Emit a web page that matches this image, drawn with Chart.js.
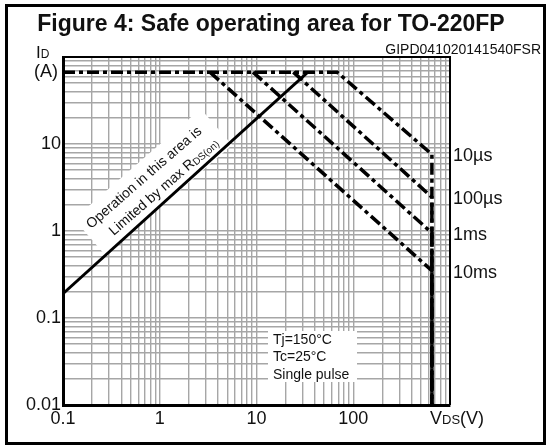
<!DOCTYPE html>
<html>
<head>
<meta charset="utf-8">
<script src="https://cdn.jsdelivr.net/npm/chart.js@4/dist/chart.umd.min.js"></script>
<style>
    html, body { margin: 0; padding: 0; background: #fff; }
    #wrap { width: 548px; height: 446px; }
</style>
</head>
<body>
<div id="wrap"><canvas id="soaChart" width="548" height="446"></canvas></div>
<script>
// axis decades and their labels
const xDecades = [0.1, 1, 10, 100, 1000];
const xLabels = ['0.1', '1', '10', '100', ''];
const yDecades = [0.01, 0.1, 1, 10, 100];
const yLabels = ['0.01', '0.1', '1', '10', ''];

// limit lines (VDS in V, ID in A)
const rdsVds = [0.1, 34];
const rdsId = [0.19, 67];
const t10usVds = [0.1, 68, 650, 650];
const t10usId = [67, 67, 7.6, 0.01];
const t100usVds = [24, 650, 650];
const t100usId = [67, 2.45, 0.01];
const t1msVds = [9.2, 650, 650];
const t1msId = [67, 0.95, 0.01];
const t10msVds = [3.3, 650, 650];
const t10msId = [67, 0.35, 0.01];

const pulseNames = ['10µs', '100µs', '1ms', '10ms'];
const noteLines = ['Tj=150°C', 'Tc=25°C', 'Single pulse'];

const FONT = "'Liberation Sans', Arial, sans-serif";

function logGrid(decades) {
    const out = [];
    for (let i = 0; i < decades.length - 1; i++) {
        for (let k = 1; k < 10; k++) out.push(decades[i] * k);
    }
    out.push(decades[decades.length - 1]);
    return out;
}

function pts(xs, ys) {
    return xs.map((x, i) => ({ x, y: ys[i] }));
}

// draws pieces of text one after another, for subscripts
function drawParts(ctx, parts, x, y) {
    let cx = x;
    parts.forEach(([text, size, dy]) => {
        ctx.font = `${size}px ${FONT}`;
        ctx.fillText(text, cx, y + (dy || 0));
        cx += ctx.measureText(text).width;
    });
    return cx - x;
}

const pulseDash = [12, 4, 4, 4];

function pulseSet(label, xs, ys) {
    return {
        label,
        data: pts(xs, ys),
        showLine: true,
        borderColor: '#000',
        borderWidth: 3.5,
        borderDash: pulseDash,
        pointRadius: 0,
        fill: false
    };
}

const figureDecor = {
    id: 'figureDecor',
    beforeDraw(chart) {
        const ctx = chart.ctx;
        ctx.save();
        ctx.fillStyle = '#fff';
        ctx.fillRect(0, 0, chart.width, chart.height);
        ctx.restore();
    },
    beforeDatasetsDraw(chart) {
        const ctx = chart.ctx;
        ctx.save();
        ctx.fillStyle = '#111';

        // rotated note along the RDS(on) line
        ctx.save();
        ctx.translate(153, 182);
        ctx.rotate(-41 * Math.PI / 180);
        ctx.fillStyle = '#fff';
        ctx.fillRect(-84, -24, 168, 48);
        ctx.fillStyle = '#111';
        ctx.textBaseline = 'alphabetic';
        ctx.font = `14px ${FONT}`;
        let w = ctx.measureText('Operation in this area is').width;
        ctx.fillText('Operation in this area is', -w / 2 - 4, -5);
        ctx.font = `14px ${FONT}`;
        const line2 = [['Limited by max R', 14, 0], ['DS(on)', 10, 1]];
        ctx.globalAlpha = 0;
        w = drawParts(ctx, line2, 0, 0);
        ctx.globalAlpha = 1;
        drawParts(ctx, line2, -w / 2 + 5, 15);
        ctx.restore();

        // test conditions box
        ctx.fillStyle = '#fff';
        ctx.fillRect(268, 331, 89, 51);
        ctx.fillStyle = '#111';
        ctx.font = `14px ${FONT}`;
        ctx.textBaseline = 'middle';
        noteLines.forEach((t, i) => ctx.fillText(t, 273, 340 + i * 17.5));
        ctx.restore();
    },
    afterDraw(chart) {
        const ctx = chart.ctx;
        const area = chart.chartArea;
        const yScale = chart.scales.y;
        const xScale = chart.scales.x;
        ctx.save();

        // top and right edge of the plot
        ctx.strokeStyle = '#000';
        ctx.lineWidth = 2;
        ctx.beginPath();
        ctx.moveTo(area.left, area.top);
        ctx.lineTo(area.right, area.top);
        ctx.lineTo(area.right, area.bottom);
        ctx.stroke();

        // figure frame
        ctx.lineWidth = 3;
        ctx.strokeRect(6.5, 5.5, 538, 438);

        ctx.fillStyle = '#111';
        ctx.textBaseline = 'alphabetic';

        // title and figure code
        ctx.font = `bold 23px ${FONT}`;
        ctx.textAlign = 'center';
        ctx.fillText('Figure 4: Safe operating area for TO-220FP', 271, 31);
        ctx.font = `14px ${FONT}`;
        ctx.textAlign = 'right';
        ctx.fillText('GIPD041020141540FSR', 541, 54);

        // axis titles
        ctx.textAlign = 'left';
        drawParts(ctx, [['I', 17, 0], ['D', 12, 0]], 36, 58);
        ctx.font = `18px ${FONT}`;
        ctx.textAlign = 'right';
        ctx.fillText('(A)', 58, 77);
        ctx.textAlign = 'left';
        drawParts(ctx, [['V', 18, 0], ['DS', 13, 0], ['(V)', 18, 0]], xScale.getPixelForValue(1000) - 20, 424);

        // pulse duration labels at the end of each line
        const ends = [t10usId[2], t100usId[1], t1msId[1], t10msId[1]];
        ctx.font = `18px ${FONT}`;
        ctx.textBaseline = 'middle';
        pulseNames.forEach((name, i) => {
            ctx.fillText(name, area.right + 3, yScale.getPixelForValue(ends[i]) + 2);
        });
        ctx.restore();
    }
};

new Chart(document.getElementById('soaChart'), {
    type: 'scatter',
    data: {
        datasets: [
            {
                label: 'RDS(on) limit',
                data: pts(rdsVds, rdsId),
                showLine: true,
                borderColor: '#000',
                borderWidth: 2.8,
                pointRadius: 0,
                fill: false
            },
            pulseSet('10µs', t10usVds, t10usId),
            pulseSet('100µs', t100usVds, t100usId),
            pulseSet('1ms', t1msVds, t1msId),
            pulseSet('10ms', t10msVds, t10msId)
        ]
    },
    options: {
        responsive: false,
        animation: false,
        devicePixelRatio: 1,
        layout: { padding: { left: 0, top: 57, right: 98, bottom: 0 } },
        plugins: {
            legend: { display: false },
            title: { display: false },
            tooltip: { enabled: false }
        },
        scales: {
            x: {
                type: 'logarithmic',
                min: 0.1,
                max: 1000,
                afterBuildTicks: (scale) => {
                    scale.ticks = logGrid(xDecades).map(v => ({ value: v, major: xDecades.includes(v) }));
                },
                afterFit: (scale) => { scale.height = 41; },
                ticks: {
                    autoSkip: false,
                    maxRotation: 0,
                    padding: 3,
                    color: '#111',
                    font: { family: FONT, size: 18 },
                    callback: (v) => {
                        const i = xDecades.indexOf(v);
                        return i >= 0 ? xLabels[i] : '';
                    }
                },
                grid: { color: '#a6a6a6', lineWidth: 1.4, drawTicks: false },
                border: { color: '#000', width: 3 }
            },
            y: {
                type: 'logarithmic',
                min: 0.01,
                max: 100,
                afterBuildTicks: (scale) => {
                    scale.ticks = logGrid(yDecades).map(v => ({ value: v, major: yDecades.includes(v) }));
                },
                afterFit: (scale) => { scale.width = 63; },
                ticks: {
                    autoSkip: false,
                    padding: 2,
                    color: '#111',
                    font: { family: FONT, size: 18 },
                    callback: (v) => {
                        const i = yDecades.indexOf(v);
                        return i >= 0 ? yLabels[i] : '';
                    }
                },
                grid: { color: '#a6a6a6', lineWidth: 1.4, drawTicks: false },
                border: { color: '#000', width: 3 }
            }
        }
    },
    plugins: [figureDecor]
});
</script>
</body>
</html>
